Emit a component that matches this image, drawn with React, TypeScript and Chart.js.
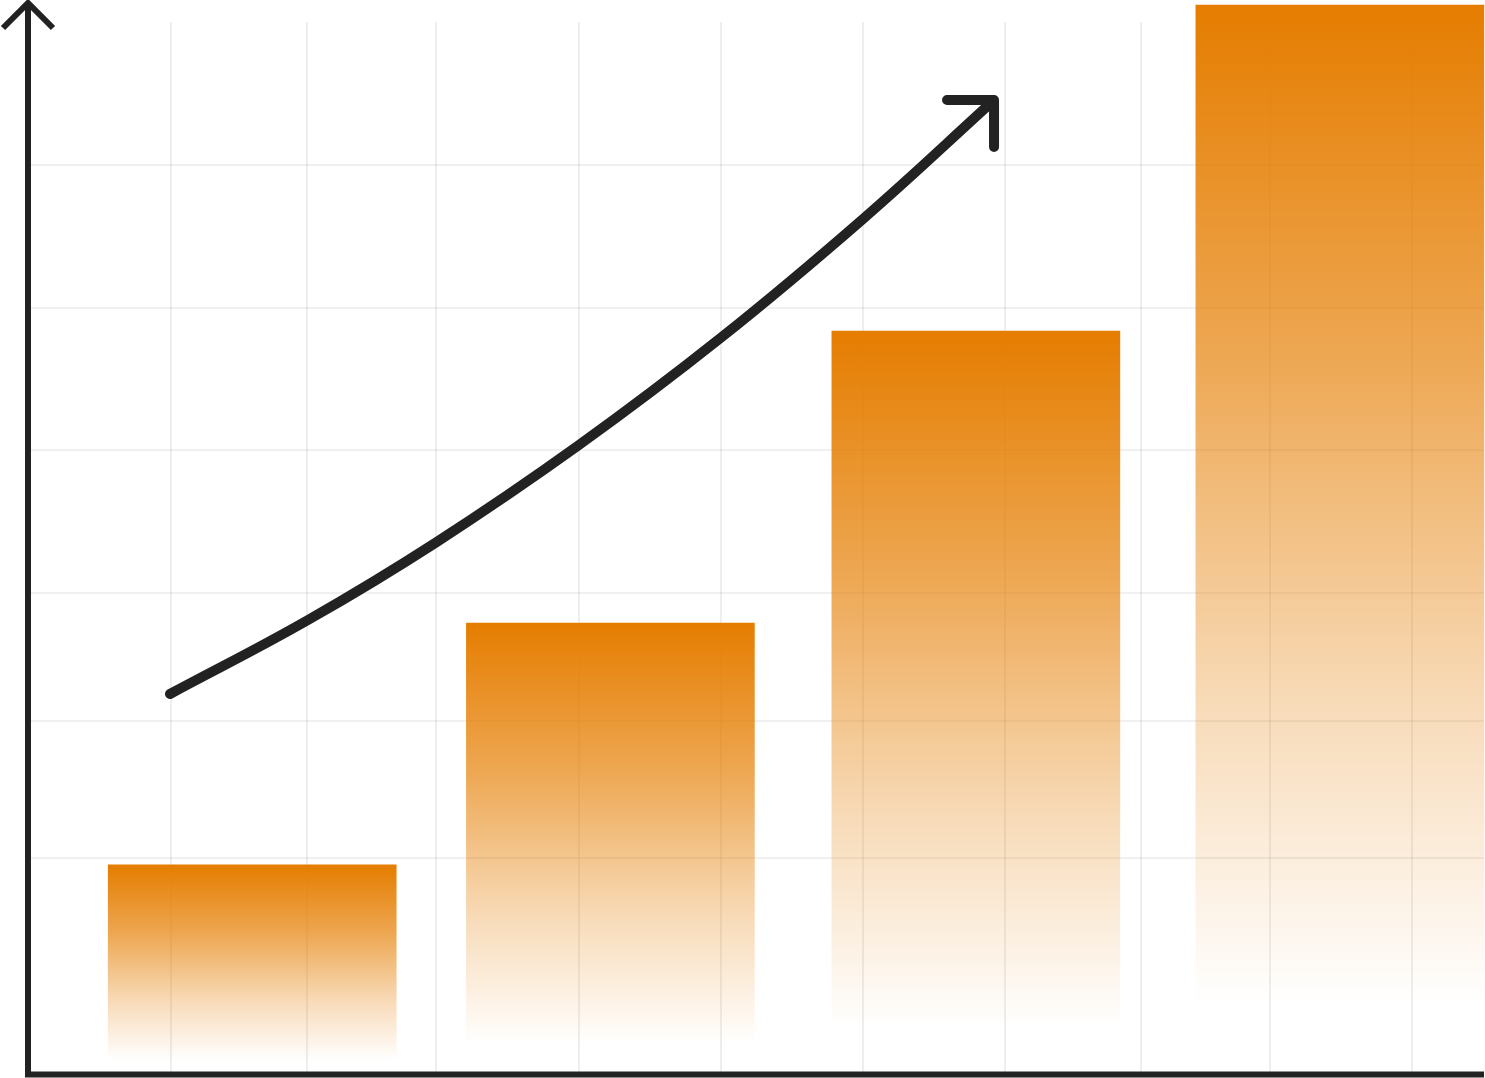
import React, { useEffect, useRef } from "react";
import { Chart, registerables } from "chart.js";

Chart.register(...registerables);

// Bar centres on the horizontal value axis (0–100)
const barX = [15.4, 40.0, 65.1, 90.1];
// Bar tops and the level where each bar's fade ends (vertical value axis, 0–100)
const barTop = [19.8, 42.8, 70.6, 101.6];
const barBase = [1.2, 2.7, 4.3, 6.5];

// Trend arrow points
const trendX = [9.75, 19.23, 28.02, 37.84, 47.53, 57.35, 66.28];
const trendY = [36.06, 43.1, 50.48, 59.75, 69.89, 81.26, 92.48];

// Grid line positions
const gridX = [9.82, 19.16, 28.02, 37.84, 47.6, 57.35, 67.1, 76.44, 85.3, 95.05];
const gridY = [20.46, 33.49, 45.67, 59.28, 72.79, 86.39];

const ORANGE = [229, 125, 0];
const INK = "#222222";

const decorPlugin = {
  id: "decor",
  afterDatasetsDraw(chart: any) {
    const { ctx } = chart;
    const meta = chart.getDatasetMeta(0);
    const pts = meta.data;
    if (!pts || !pts.length) return;
    const tip = pts[pts.length - 1];
    ctx.save();
    ctx.strokeStyle = INK;
    ctx.lineWidth = 10;
    ctx.lineCap = "round";
    ctx.lineJoin = "round";
    ctx.beginPath();
    ctx.moveTo(tip.x - 46, tip.y - 1);
    ctx.lineTo(tip.x + 1, tip.y - 1);
    ctx.lineTo(tip.x + 1, tip.y + 46);
    ctx.stroke();
    ctx.restore();
  },
  afterDraw(chart: any) {
    const { ctx, chartArea } = chart;
    const { left, right, top, bottom } = chartArea;
    ctx.save();
    ctx.strokeStyle = INK;
    ctx.lineWidth = 6;
    ctx.lineCap = "butt";
    // y axis
    ctx.beginPath();
    ctx.moveTo(left, bottom + 4);
    ctx.lineTo(left, top - 18);
    ctx.stroke();
    // arrow head
    ctx.beginPath();
    ctx.moveTo(left - 25, top - 19 + 25);
    ctx.lineTo(left, top - 19);
    ctx.lineTo(left + 25, top - 19 + 25);
    ctx.stroke();
    // x axis
    ctx.beginPath();
    ctx.moveTo(left - 3, bottom + 1.5);
    ctx.lineTo(right, bottom + 1.5);
    ctx.stroke();
    ctx.restore();
  },
};

export default function App() {
  const ref = useRef<HTMLCanvasElement | null>(null);

  useEffect(() => {
    if (!ref.current) return;
    const barData = barX.map((x, i) => ({ x, y: [barBase[i], barTop[i]] }));
    const trendData = trendX.map((x, i) => ({ x, y: trendY[i] }));

    const chart = new Chart(ref.current, {
      type: "bar",
      data: {
        datasets: [
          {
            type: "line",
            data: trendData as any,
            borderColor: INK,
            borderWidth: 10,
            borderCapStyle: "round",
            borderJoinStyle: "round",
            pointRadius: 0,
            tension: 0.4,
            fill: false,
            clip: false as any,
            order: 0,
          } as any,
          {
            type: "bar",
            data: barData as any,
            barThickness: 288,
            borderWidth: 0,
            clip: false as any,
            order: 1,
            backgroundColor: (c: any) => {
              const ch = c.chart;
              if (!ch.chartArea || c.dataIndex === undefined) return "rgb(229,125,0)";
              const ys = ch.scales.y;
              const i = c.dataIndex;
              const t = ys.getPixelForValue(barTop[i]);
              const b = ys.getPixelForValue(barBase[i]);
              const g = ch.ctx.createLinearGradient(0, t, 0, b);
              const [r, gg, bb] = ORANGE;
              g.addColorStop(0, `rgba(${r},${gg},${bb},1)`);
              g.addColorStop(0.35, `rgba(${r},${gg},${bb},0.68)`);
              g.addColorStop(0.7, `rgba(${r},${gg},${bb},0.28)`);
              g.addColorStop(1, `rgba(${r},${gg},${bb},0)`);
              return g;
            },
          } as any,
        ],
      },
      options: {
        animation: false,
        responsive: true,
        maintainAspectRatio: false,
        layout: { padding: { left: 28, right: 1, top: 22, bottom: 5 } },
        plugins: {
          legend: { display: false },
          tooltip: { enabled: false },
        },
        scales: {
          x: {
            type: "linear",
            min: 0,
            max: 100,
            offset: false,
            z: 1,
            border: { display: false },
            ticks: { display: false },
            grid: {
              offset: false,
              drawTicks: false,
              color: "rgba(0,0,0,0.065)",
              lineWidth: 2,
            },
            afterBuildTicks: (s: any) => {
              s.ticks = gridX.map((v) => ({ value: v }));
            },
          },
          y: {
            type: "linear",
            min: 0,
            max: 100,
            z: 1,
            border: { display: false },
            ticks: { display: false },
            grid: {
              drawTicks: false,
              color: "rgba(0,0,0,0.06)",
              lineWidth: 2,
            },
            afterBuildTicks: (s: any) => {
              s.ticks = gridY.map((v) => ({ value: v }));
            },
          },
        } as any,
      },
      plugins: [decorPlugin],
    });
    return () => chart.destroy();
  }, []);

  return (
    <div
      style={{
        position: "fixed",
        left: 0,
        top: 0,
        width: 1485,
        height: 1078,
        background: "#ffffff",
      }}
    >
      <canvas ref={ref} />
    </div>
  );
}
